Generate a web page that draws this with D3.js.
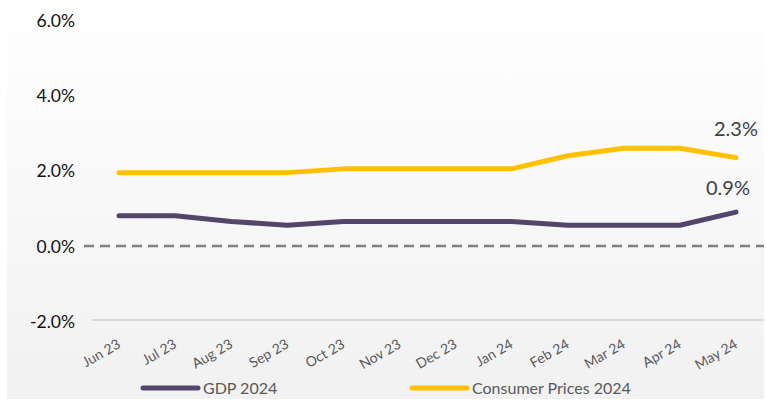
<!DOCTYPE html>
<html>
<head>
<meta charset="utf-8">
<script src="https://cdn.jsdelivr.net/npm/d3@7"></script>
<style>
  body { margin: 0; background: #fff; }
  svg { display: block; font-family: Lato, "Open Sans", sans-serif; }
</style>
</head>
<body>
<div id="chart"></div>
<script>
// data
var months = ["Jun 23", "Jul 23", "Aug 23", "Sep 23", "Oct 23", "Nov 23",
              "Dec 23", "Jan 24", "Feb 24", "Mar 24", "Apr 24", "May 24"];
var gdp = [0.8, 0.8, 0.65, 0.55, 0.65, 0.65, 0.65, 0.65, 0.55, 0.55, 0.55, 0.9];
var cpi = [1.95, 1.95, 1.95, 1.95, 2.05, 2.05, 2.05, 2.05, 2.4, 2.6, 2.6, 2.35];
var yTicks = [-2, 0, 2, 4, 6];
var seriesNames = ["GDP 2024", "Consumer Prices 2024"];
var seriesLabels = ["0.9%", "2.3%"];

var width = 767,
    height = 401;

var colors = ["#54466b", "#ffc000"];
var font = "Lato, 'Open Sans', sans-serif";

var svg = d3.select("#chart").append("svg")
  .attr("width", width)
  .attr("height", height);

// background panel with soft gradient
var grad = svg.append("defs").append("linearGradient")
  .attr("id", "bg").attr("x1", 0).attr("y1", 0).attr("x2", 0).attr("y2", 1);
grad.append("stop").attr("offset", "0%").attr("stop-color", "#ffffff");
grad.append("stop").attr("offset", "100%").attr("stop-color", "#f1f1f1");

svg.append("rect")
  .attr("x", 7).attr("y", 0)
  .attr("width", 757).attr("height", 399)
  .attr("fill", "url(#bg)");

var x = d3.scalePoint()
  .domain(months)
  .range([119, 736]);

var y = d3.scaleLinear()
  .domain([-2, 6])
  .range([321, 20.5]);

// y axis labels
var yAxis = d3.axisLeft(y)
  .tickValues(yTicks)
  .tickSize(0)
  .tickPadding(0)
  .tickFormat(function(d) { return d.toFixed(1) + "%"; });

var gy = svg.append("g")
  .attr("transform", "translate(75,0)")
  .attr("font-family", font)
  .call(yAxis);
gy.attr("font-family", font);
gy.select(".domain").remove();
gy.selectAll("text")
  .attr("fill", "#111")
  .style("font-size", "17.5px")
  .attr("dy", "0.35em");

// bottom axis line
svg.append("line")
  .attr("x1", 92).attr("x2", 764)
  .attr("y1", y(-2) - 1).attr("y2", y(-2) - 1)
  .attr("stroke", "#d9d9d9")
  .attr("stroke-width", 2);

// zero line
svg.append("line")
  .attr("x1", 84).attr("x2", 764)
  .attr("y1", y(0)).attr("y2", y(0))
  .attr("stroke", "#7f7f7f")
  .attr("stroke-width", 2.5)
  .attr("stroke-dasharray", "10,6");

// x labels
var xAxis = d3.axisBottom(x).tickSize(0).tickPadding(0);
var gx = svg.append("g")
  .attr("transform", "translate(0,347)")
  .call(xAxis);
gx.attr("font-family", font);
gx.select(".domain").remove();
gx.selectAll("text")
  .attr("fill", "#595959")
  .style("font-size", "14px")
  .attr("text-anchor", "end")
  .attr("dy", 0)
  .attr("y", 0)
  .attr("transform", "translate(2,0) rotate(-30)");

// lines
var line = d3.line()
  .x(function(d, i) { return x(months[i]); })
  .y(function(d) { return y(d); });

var allSeries = [gdp, cpi];

svg.selectAll(".series")
  .data(allSeries)
  .enter().append("path")
  .attr("class", "series")
  .attr("d", line)
  .attr("fill", "none")
  .attr("stroke", function(d, i) { return colors[i]; })
  .attr("stroke-width", 5)
  .attr("stroke-linecap", "round")
  .attr("stroke-linejoin", "round");

// end labels
svg.selectAll(".endlabel")
  .data(allSeries)
  .enter().append("text")
  .attr("class", "endlabel")
  .attr("x", function(d, i) { return x(months[months.length - 1]) + (i == 0 ? -8 : 0); })
  .attr("y", function(d, i) { return y(d[d.length - 1]) + (i == 0 ? -17 : -22); })
  .attr("text-anchor", "middle")
  .attr("fill", "#404040")
  .style("font-size", "20px")
  .text(function(d, i) { return seriesLabels[i]; });

// legend
var legendX = [143, 412];
var legend = svg.selectAll(".legend")
  .data(seriesNames)
  .enter().append("g")
  .attr("class", "legend")
  .attr("transform", function(d, i) { return "translate(" + legendX[i] + ",388)"; });

legend.append("line")
  .attr("x1", 0).attr("x2", 55)
  .attr("stroke", function(d, i) { return colors[i]; })
  .attr("stroke-width", 5)
  .attr("stroke-linecap", "round");

legend.append("text")
  .attr("x", 60)
  .attr("y", 6)
  .attr("fill", "#595959")
  .style("font-size", "16px")
  .text(function(d) { return d; });
</script>
</body>
</html>
